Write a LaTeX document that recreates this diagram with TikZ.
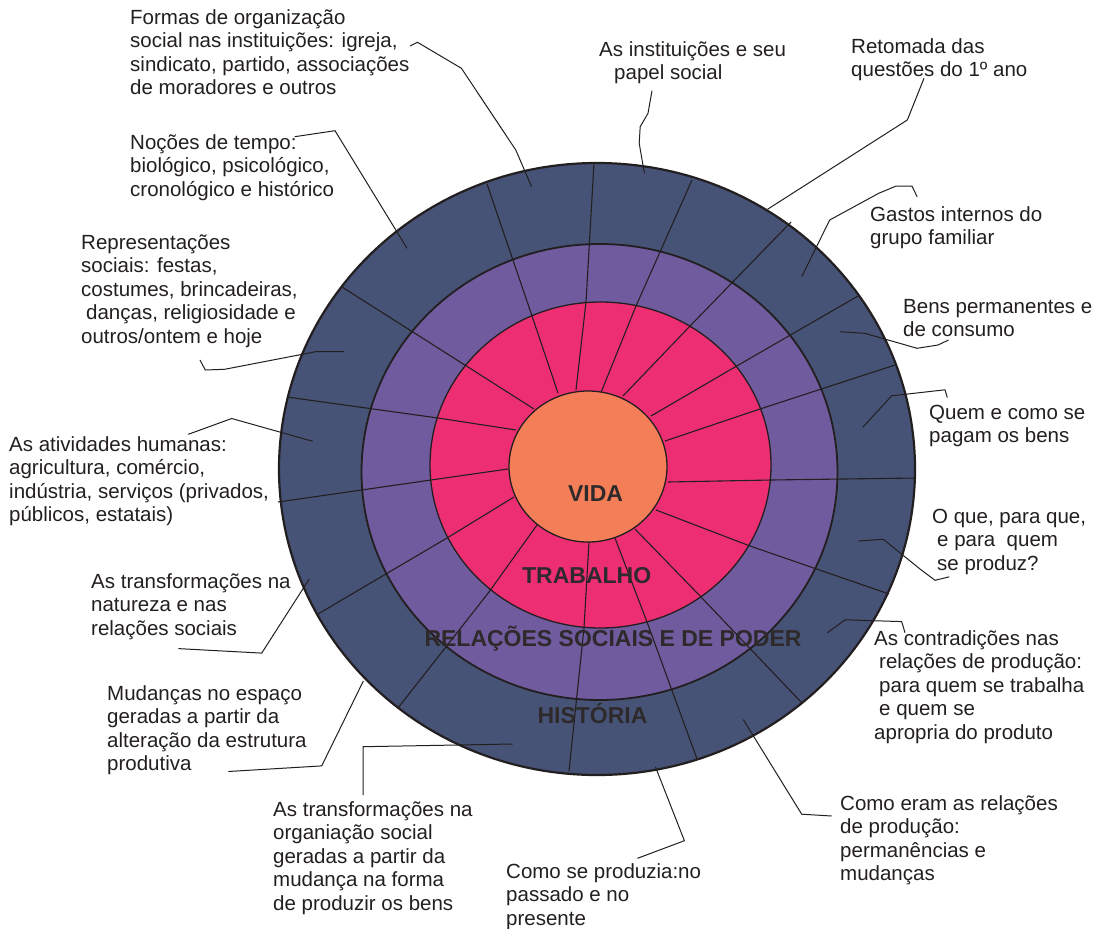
\documentclass[tikz,border=0pt]{standalone}
\usepackage{fontspec}
\setmainfont{Liberation Sans}
\usepackage{tikz}
\usetikzlibrary{positioning,calc}

\definecolor{histblue}{HTML}{465376}
\definecolor{relpurple}{HTML}{6F5B9D}
\definecolor{trabpink}{HTML}{EE2E73}
\definecolor{vidaorange}{HTML}{F37E57}
\definecolor{inkgray}{HTML}{231F20}

\begin{document}
\begin{tikzpicture}[x=1pt,y=-1pt]
	\tikzstyle{txt} = [anchor=base west, inner sep=0pt, align=left, text=inkgray, font=\fontsize{20.5}{23.5}\selectfont]
	\tikzstyle{title} = [anchor=base, inner sep=0pt, text=inkgray!95, font=\fontsize{23}{26}\selectfont\bfseries]
	\tikzstyle{leader} = [draw=inkgray, line width=1pt]
	\tikzstyle{spoke} = [draw=inkgray, line width=1.1pt]
	\tikzstyle{ring} = [draw=inkgray, line width=1.3pt]

	\useasboundingbox (0,0) rectangle (1098,929);

	% rings, outside in
	\fill[histblue] (597,469) ellipse [x radius=318, y radius=306];
	\fill[relpurple] (599.5,472) ellipse [x radius=238, y radius=228];
	\fill[trabpink] (600.5,465) ellipse [x radius=170.5, y radius=163];

	% spokes: inner, middle, outer point
	\foreach \ix/\iy/\mx/\my/\ox/\oy in {
		576/390/586/302/594/163, 600/395/636/306/692/180,
		623/396/691/325/791/222, 651/416/735/367/858/296,
		665/441/760/409/895/365, 668/482/771/480/916/478,
		656/510/750/546/889/594, 635/529/701/597/801/702,
		615/538/647/622/697/759, 589/542/584/628/569/771,
		537/525/489/592/398/708, 514/497/447/538/318/614,
		508/469/431/480/278/502, 516/430/438/418/287/397,
		534/409/468/367/342/287, 558/393/531/313/487/184}
		\draw[spoke] (\ix,\iy) -- (\mx,\my) -- (\ox,\oy);

	\draw[ring] (600.5,465) ellipse [x radius=170.5, y radius=163];
	\draw[ring, line width=1.8pt] (599.5,472) ellipse [x radius=238, y radius=228];
	\draw[ring, line width=2.2pt] (597,469) ellipse [x radius=318, y radius=306];
	\draw[ring, fill=vidaorange] (588,466.5) ellipse [x radius=79, y radius=75.5];

	\node[title] (vida) at (595.5,501) {VIDA};
	\node[title] (trabalho) at (586.7,583) {TRABALHO};
	\node[title] (relacoes) at (613,646) {RELAÇÕES SOCIAIS E DE PODER};
	\node[title] (historia) at (592.5,723) {HISTÓRIA};

	% labels round the circle (placed at the baseline of their last line)
	\node[txt] (formas) at (130,94.5) {Formas de organização\\social nas instituições: igreja,\\sindicato, partido, associações\\de moradores e outros};
	\node[txt] (nocoes) at (130,196) {Noções de tempo:\\biológico, psicológico,\\cronológico e histórico};
	\node[txt] (repres) at (81,343) {Representações\\sociais: festas,\\costumes, brincadeiras,\\\hspace*{5pt}danças, religiosidade e\\outros/ontem e hoje};
	\node[txt] (instit) at (599,79.5) {As instituições e seu\\\hspace*{15pt}papel social};
	\node[txt] (retomada) at (851,76.5) {Retomada das\\questões do 1º ano};
	\node[txt] (gastos) at (870,244.5) {Gastos internos do\\grupo familiar};
	\node[txt] (bens) at (903,336.5) {Bens permanentes e\\de consumo};
	\node[txt] (quem) at (929,442.5) {Quem e como se\\pagam os bens};
	\node[txt] (oque) at (932,570) {O que, para que,\\\hspace*{5pt}e para\ \ quem\\\hspace*{5pt}se produz?};
	\node[txt] (contrad) at (874,739) {As contradições nas\\\hspace*{5pt}relações de produção:\\\hspace*{5pt}para quem se trabalha\\\hspace*{5pt}e quem se\\apropria do produto};
	\node[txt] (comoeram) at (840,880.5) {Como eram as relações\\de produção:\\permanências e\\mudanças};
	\node[txt] (produzia) at (506,925) {Como se produzia:no\\passado e no\\presente};
	\node[txt] (organiz) at (273,910) {As transformações na\\organiação social\\geradas a partir da\\mudança na forma\\de produzir os bens};
	\node[txt] (espaco) at (107,770.5) {Mudanças no espaço\\geradas a partir da\\alteração da estrutura\\produtiva};
	\node[txt] (natureza) at (91,635) {As transformações na\\natureza e nas\\relações sociais};
	\node[txt] (ativ) at (9,521.5) {As atividades humanas:\\agricultura, comércio,\\indústria, serviços (privados,\\públicos, estatais)};

	% leader ends
	\coordinate (formas-a) at (410,46);     \coordinate (formas-b) at (531.6,186.7);
	\coordinate (nocoes-a) at (294.7,136.7); \coordinate (nocoes-b) at (407,248.3);
	\coordinate (repres-a) at (200,360);     \coordinate (repres-b) at (343.9,351.7);
	\coordinate (instit-a) at (652,90.7);    \coordinate (instit-b) at (644.4,173.3);
	\coordinate (retomada-a) at (924,78.3);  \coordinate (retomada-b) at (767.5,209.3);
	\coordinate (gastos-a) at (917.1,196.7); \coordinate (gastos-b) at (801.7,276.7);
	\coordinate (bens-a) at (948.6,340);     \coordinate (bens-b) at (840.2,331.7);
	\coordinate (quem-a) at (947.3,397.5);   \coordinate (quem-b) at (862.7,427.3);
	\coordinate (oque-a) at (949.3,576.8);   \coordinate (oque-b) at (858.3,541);
	\coordinate (contrad-a) at (905,632.8);  \coordinate (contrad-b) at (827.3,632.8);
	\coordinate (comoeram-a) at (831.7,816); \coordinate (comoeram-b) at (743.3,719.6);
	\coordinate (produzia-a) at (637.5,858.3); \coordinate (produzia-b) at (655.4,766.7);
	\coordinate (organiz-a) at (363,795);    \coordinate (organiz-b) at (512.5,744);
	\coordinate (espaco-a) at (228.3,771.5); \coordinate (espaco-b) at (363.3,681.1);
	\coordinate (natureza-a) at (178.3,648.6); \coordinate (natureza-b) at (309.3,578.9);
	\coordinate (ativ-a) at (188.3,434.3);   \coordinate (ativ-b) at (312.7,441.3);

	\draw[leader] (formas-a) -- (417.5,42.3) -- (461.4,68.3) -- (515.8,150) -- (formas-b);
	\draw[leader] (nocoes-a) -- (335,130.7) -- (nocoes-b);
	\draw[leader] (repres-a) -- (205.3,370) -- (224.6,369.3) -- (315.8,351.7) -- (repres-b);
	\draw[leader] (instit-a) -- (648,113.3) -- (640.2,126.7) -- (639.2,143.3) -- (instit-b);
	\draw[leader] (retomada-a) -- (907.3,120) -- (retomada-b);
	\draw[leader] (gastos-a) -- (911.9,186) -- (896.2,186) -- (878.7,193.3) -- (829.7,220) -- (gastos-b);
	\draw[leader] (bens-a) -- (938,345) -- (917,348.3) -- (899.7,343.3) -- (864.7,333.3) -- (bens-b);
	\draw[leader] (quem-a) -- (945,389.8) -- (891.7,395.8) -- (quem-b);
	\draw[leader] (oque-a) -- (935,580.3) -- (920,569) -- (883.3,539.3) -- (oque-b);
	\draw[leader] (contrad-a) -- (901.7,621.6) -- (845,619.8) -- (contrad-b);
	\draw[leader] (comoeram-a) -- (801.7,814.2) -- (comoeram-b);
	\draw[leader] (produzia-a) -- (684.4,840.7) -- (produzia-b);
	\draw[leader] (organiz-a) -- (363,746.7) -- (organiz-b);
	\draw[leader] (espaco-a) -- (321.7,765.9) -- (espaco-b);
	\draw[leader] (natureza-a) -- (261.7,653.1) -- (natureza-b);
	\draw[leader] (ativ-a) -- (231.7,418.5) -- (ativ-b);
\end{tikzpicture}
\end{document}
